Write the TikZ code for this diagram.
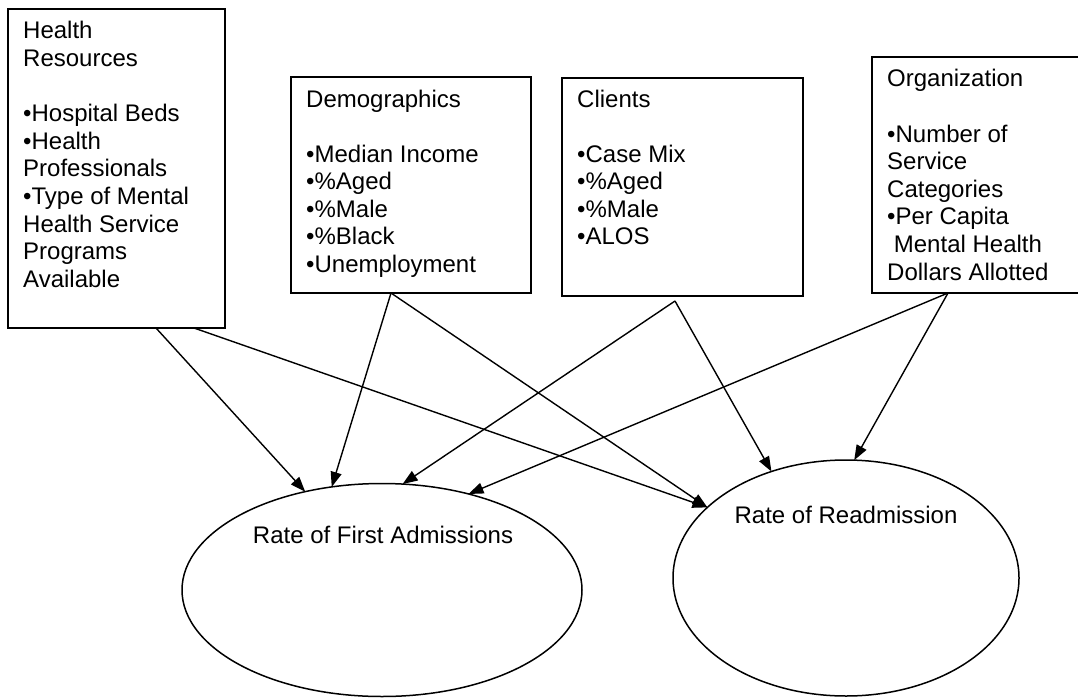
\documentclass[tikz,border=0pt]{standalone}
\usepackage{fontspec}
\setmainfont{Liberation Sans}
\usetikzlibrary{arrows.meta,calc,shapes.geometric}
\begin{document}
\begin{tikzpicture}[x=1pt,y=-1pt,
  font=\fontsize{24}{27.6}\selectfont,
  box/.style={draw,line width=1.6pt,rectangle,inner sep=0pt,outer sep=0pt,anchor=north west},
  ell/.style={draw,line width=1.5pt,ellipse,inner sep=0pt,outer sep=0pt},
  txt/.style={inner sep=0pt,anchor=base west},
  lbl/.style={inner sep=0pt,anchor=base},
  arr/.style={line width=1.4pt,-{Triangle[length=15pt,width=11pt]}}]
\useasboundingbox (0,0) rectangle (1078,698);
% boxes
\node[box,minimum width=217pt,minimum height=319pt] (hr) at (8,9) {};
\node[box,minimum width=240pt,minimum height=216pt] (demo) at (291,77) {};
\node[box,minimum width=241pt,minimum height=218pt] (cli) at (562,78) {};
\node[box,minimum width=210pt,minimum height=236pt] (org) at (872,57) {};
% box texts
\node[txt] (hrt) at ($(hr.north west)+(15,30)$) {\begin{tabular}[t]{@{}l@{}}Health\\Resources\\ \\•Hospital Beds\\•Health\\Professionals\\•Type of Mental\\Health Service\\Programs\\Available\end{tabular}};
\node[txt] (demot) at ($(demo.north west)+(15,30)$) {\begin{tabular}[t]{@{}l@{}}Demographics\\ \\•Median Income\\•\%Aged\\•\%Male\\•\%Black\\•Unemployment\end{tabular}};
\node[txt] (clit) at ($(cli.north west)+(15,29)$) {\begin{tabular}[t]{@{}l@{}}Clients\\ \\•Case Mix\\•\%Aged\\•\%Male\\•ALOS\end{tabular}};
\node[txt] (orgt) at ($(org.north west)+(15,30)$) {\begin{tabular}[t]{@{}l@{}}Organization\\ \\•Number of\\Service\\Categories\\•Per Capita\\\hspace*{6.7pt}Mental Health\\Dollars Allotted\end{tabular}};
% ellipses
\node[ell,minimum width=400pt,minimum height=213pt] (e1) at (382,590) {};
\node[ell,minimum width=346pt,minimum height=236pt] (e2) at (846,578) {};
\node[lbl] (e1t) at (383,543) {Rate of First Admissions};
\node[lbl] (e2t) at (846,523) {Rate of Readmission};
% connectors
\draw[arr] ($(hr.south west)+(148,0)$) -- (e1.128);
\draw[arr] ($(hr.south west)+(186,0)$) -- (e2.153);
\draw[arr] ($(demo.south west)+(100,0)$) -- (e1.116);
\draw[arr] ($(demo.south west)+(100,0)$) -- (e2.153);
\draw[arr] ($(cli.south west)+(113,5)$) -- (e1.79);
\draw[arr] ($(cli.south west)+(113,5)$) -- (e2.125);
\draw[arr] ($(org.south west)+(76,0)$) -- (e1.48);
\draw[arr] ($(org.south west)+(76,0)$) -- (e2.86);
\end{tikzpicture}
\end{document}
